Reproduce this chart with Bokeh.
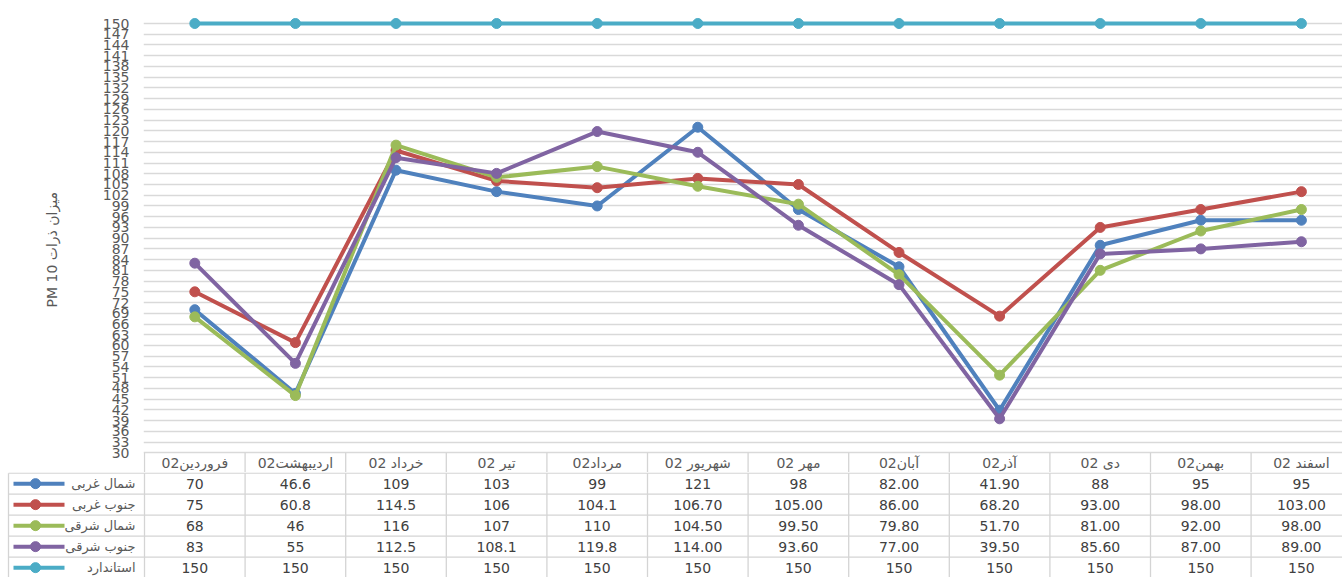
from bokeh.plotting import figure
from bokeh.models import Range1d, FixedTicker, ColumnDataSource, AllLabels, Title
from bokeh.layouts import column
from bokeh.core.properties import value
from bokeh.embed import file_html
from bokeh.resources import INLINE

# ---------------- data ----------------
months = ["فروردین02", "اردیبهشت02", "خرداد 02", "تیر 02", "مرداد02", "شهریور 02",
          "مهر 02", "آبان02", "آذر02", "دی 02", "بهمن02", "اسفند 02"]
series_names = ["شمال غربی", "جنوب غربی", "شمال شرقی", "جنوب شرقی", "استاندارد"]
north_west = ["70", "46.6", "109", "103", "99", "121", "98", "82.00", "41.90", "88", "95", "95"]
south_west = ["75", "60.8", "114.5", "106", "104.1", "106.70", "105.00", "86.00", "68.20",
              "93.00", "98.00", "103.00"]
north_east = ["68", "46", "116", "107", "110", "104.50", "99.50", "79.80", "51.70",
              "81.00", "92.00", "98.00"]
south_east = ["83", "55", "112.5", "108.1", "119.8", "114.00", "93.60", "77.00", "39.50",
              "85.60", "87.00", "89.00"]
standard = ["150", "150", "150", "150", "150", "150", "150", "150", "150", "150", "150", "150"]
colors = ["#4F81BD", "#C0504D", "#9BBB59", "#8064A2", "#4BACC6"]
y_ticks = list(range(30, 151, 3))
y_title = "میزان ذرات PM 10"

all_series = [north_west, south_west, north_east, south_east, standard]
RLE, PDF = "\u202B", "\u202C"   # right-to-left embedding for Persian cells


def rtl(s):
    return RLE + s + PDF


# ---------------- layout ----------------
W = 1342
TOP_H, BOT_H = 472, 105
FRAME_LEFT = 143        # page px of chart frame left
X0 = 144                # page px of first column boundary
COL_PX = 100.6
Y_PX = 3.5775           # px per y unit
Y150 = 23               # page px of value 150
Y30 = Y150 + 120 * Y_PX
ROW_H = 21.0
GRID = "#d4d4d4"
TXT = "#404040"
FONT = "DejaVu Sans"
n = len(months)
xc = [i + 0.5 for i in range(n)]

# ================= top figure: chart + header row =================
t = figure(width=W, height=TOP_H,
           x_range=Range1d(-(X0 - FRAME_LEFT) / COL_PX, (W - X0) / COL_PX),
           y_range=Range1d(30 - (TOP_H - Y30) / Y_PX, 150 + Y150 / Y_PX),
           output_backend="svg", toolbar_location=None, x_axis_type=None,
           min_border_left=FRAME_LEFT, min_border_right=0, min_border_top=0,
           min_border_bottom=0, outline_line_color=None, border_fill_color="white",
           frame_align=False)

ax = t.yaxis[0]
ax.ticker = FixedTicker(ticks=y_ticks)
ax.major_label_policy = AllLabels()
ax.axis_line_color = None
ax.major_tick_line_color = None
ax.major_tick_out = 0
ax.major_tick_in = 0
ax.minor_tick_line_color = None
ax.major_label_standoff = 14
ax.major_label_text_font = FONT
ax.major_label_text_font_size = "14px"
ax.major_label_text_color = "#595959"

t.add_layout(Title(text=rtl(y_title), align="left", offset=TOP_H - 307, standoff=80,
                   text_font=FONT, text_font_size="14px", text_font_style="normal",
                   text_color="#595959"), "left")

t.ygrid.ticker = FixedTicker(ticks=y_ticks)
t.ygrid.grid_line_color = "#d9d9d9"
t.ygrid.grid_line_width = 1.5

# header row vertical borders
y_bottom_top = 30 - (TOP_H - Y30) / Y_PX
hv = ColumnDataSource(dict(x=list(range(n + 1)), y0=[30] * (n + 1), y1=[y_bottom_top] * (n + 1)))
t.segment(x0="x", y0="y0", x1="x", y1="y1", source=hv, line_color=GRID, line_width=1.3)
# header texts
t.text(x=xc, y=[30 - 10 / Y_PX] * n, text=[rtl(m) for m in months], text_align="center",
       text_baseline="middle", text_font=value(FONT), text_font_size="14px",
       text_color="#595959")

# series lines
for s, c in zip(all_series, colors):
    ys = [float(v) for v in s]
    t.line(xc, ys, line_color=c, line_width=4)
    t.scatter(xc, ys, size=10, fill_color=c, line_color=c)

# ================= bottom figure: data table =================
nrows = len(series_names)
b = figure(width=W, height=BOT_H,
           x_range=Range1d(-X0 / COL_PX, (W - X0) / COL_PX),
           y_range=Range1d(BOT_H / ROW_H - 0.03, -0.03),
           output_backend="svg", toolbar_location=None, x_axis_type=None, y_axis_type=None,
           min_border_left=0, min_border_right=0, min_border_top=0, min_border_bottom=0,
           outline_line_color=None, border_fill_color="white", frame_align=False)
b.xgrid.visible = False
b.ygrid.visible = False

x_left = (8 - X0) / COL_PX
hs = ColumnDataSource(dict(x0=[x_left] * (nrows + 1), x1=[n] * (nrows + 1),
                           y=list(range(nrows + 1))))
b.segment(x0="x0", y0="y", x1="x1", y1="y", source=hs, line_color=GRID, line_width=1.3)
vx = [x_left] + list(range(n + 1))
vs = ColumnDataSource(dict(x=vx, y0=[0] * len(vx), y1=[nrows] * len(vx)))
b.segment(x0="x", y0="y0", x1="x", y1="y1", source=vs, line_color=GRID, line_width=1.3)

rc = [r + 0.5 for r in range(nrows)]
# legend keys
k0, k1, km = (13 - X0) / COL_PX, (64 - X0) / COL_PX, (35 - X0) / COL_PX
b.segment(x0=[k0] * nrows, y0=rc, x1=[k1] * nrows, y1=rc, line_color=colors, line_width=4)
b.scatter(x=[km] * nrows, y=rc, size=10, fill_color=colors, line_color=colors)
b.text(x=[(135 - X0) / COL_PX] * nrows, y=rc, text=series_names, text_align="right",
       text_baseline="middle", text_font=value(FONT), text_font_size="13px",
       text_color="#595959")

for r, s in enumerate(all_series):
    b.text(x=xc, y=[rc[r]] * n, text=s, text_align="center", text_baseline="middle",
           text_font=value(FONT), text_font_size="14px", text_color=TXT)

layout = column(t, b, spacing=0)
open("out.html", "w").write(file_html(layout, INLINE))
